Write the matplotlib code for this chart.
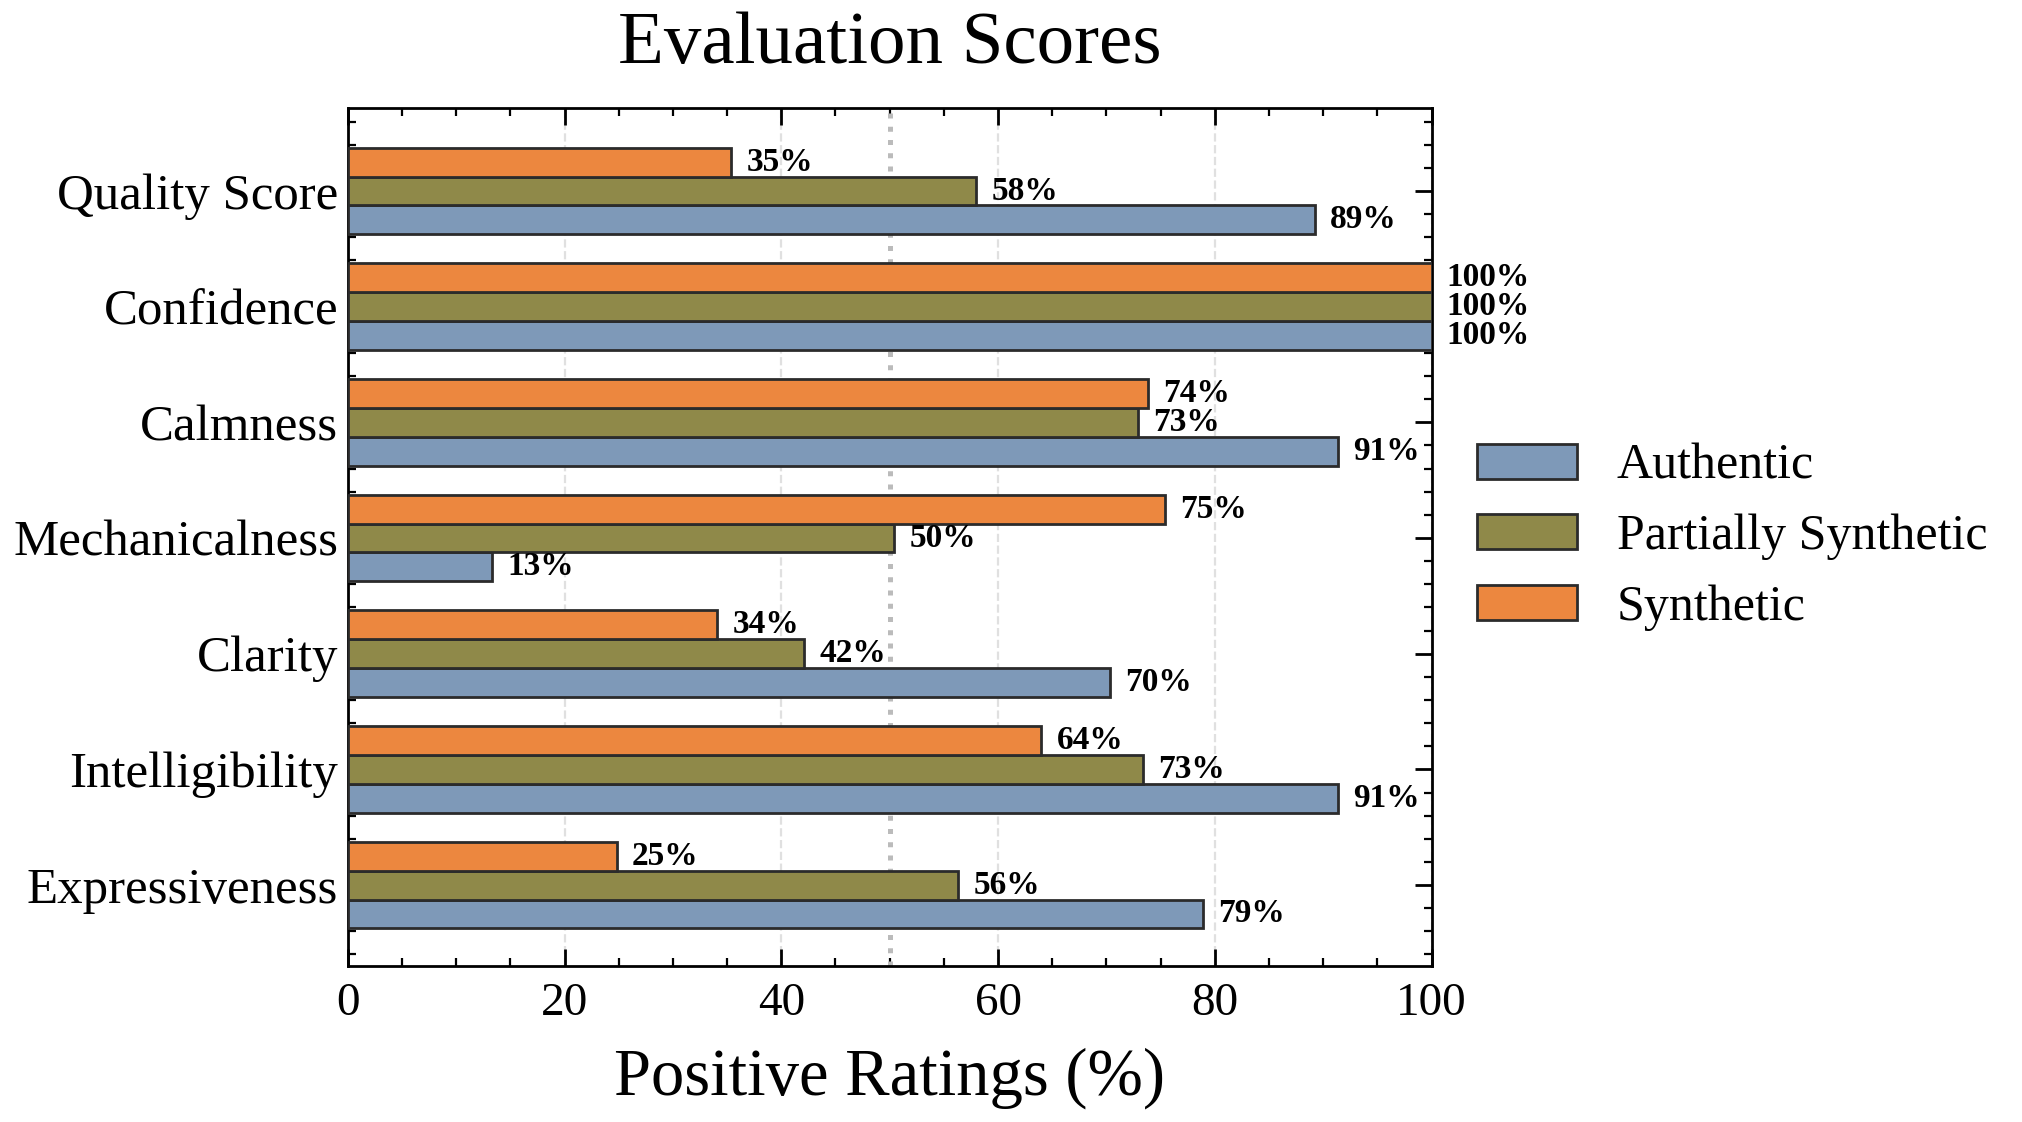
import matplotlib.pyplot as plt
import numpy as np
from matplotlib.ticker import MultipleLocator

plt.rcParams['font.family'] = ['Liberation Serif', 'DejaVu Serif']
plt.rcParams['mathtext.fontset'] = 'stix'

categories = ['Expressiveness', 'Intelligibility', 'Clarity', 'Mechanicalness',
              'Calmness', 'Confidence', 'Quality Score']
authentic = [78.9, 91.4, 70.3, 13.3, 91.4, 100.0, 89.2]
partial = [56.3, 73.4, 42.1, 50.4, 72.9, 100.0, 58.0]
synthetic = [24.8, 64.0, 34.1, 75.4, 73.8, 100.0, 35.4]

series = [('Authentic', authentic, '#7E99B8'),
          ('Partially Synthetic', partial, '#8F8949'),
          ('Synthetic', synthetic, '#EC873F')]

fig, ax = plt.subplots(figsize=(10.11, 5.61), dpi=200)
fig.subplots_adjust(left=0.172, right=0.708, bottom=0.139, top=0.904)

y = np.arange(len(categories))
h = 0.25
for i, (name, vals, col) in enumerate(series):
    pos = y + (i - 1) * h
    ax.barh(pos, vals, height=h, color=col, edgecolor='#2b2b2b', linewidth=1.0,
            label=name, zorder=3)
    for p, v in zip(pos, vals):
        ax.text(v + 1.4, p, f'{v:.0f}%', va='center', ha='left', fontsize=12,
                fontweight='bold', clip_on=False, zorder=4)

ax.axvline(50, color='#bbbbbb', linestyle=':', linewidth=1.8, zorder=2)
ax.grid(axis='x', linestyle='--', color='#e0e0e0', linewidth=0.8, zorder=0)

ax.set_xlim(0, 100)
ax.set_ylim(-0.7, 6.72)
ax.set_yticks(y)
ax.set_yticklabels(categories, fontsize=18.3)
ax.xaxis.set_major_locator(MultipleLocator(20))
ax.xaxis.set_minor_locator(MultipleLocator(5))
ax.yaxis.set_minor_locator(MultipleLocator(0.2))
ax.tick_params(axis='both', which='both', direction='in', top=True, right=True)
ax.tick_params(which='major', length=6, width=1.0)
ax.tick_params(which='minor', length=3, width=0.8)
ax.tick_params(axis='x', labelsize=17, pad=6)
for s in ax.spines.values():
    s.set_linewidth(1.0)

ax.set_xlabel('Positive Ratings (%)', fontsize=24, labelpad=8)
ax.set_title('Evaluation Scores', fontsize=27, pad=16)

ax.legend(loc='center left', bbox_to_anchor=(1.0, 0.5), frameon=False,
          fontsize=18, handlelength=2.0, handleheight=0.7, labelspacing=0.48,
          handletextpad=0.8)

fig.savefig('out.png', dpi=200)
